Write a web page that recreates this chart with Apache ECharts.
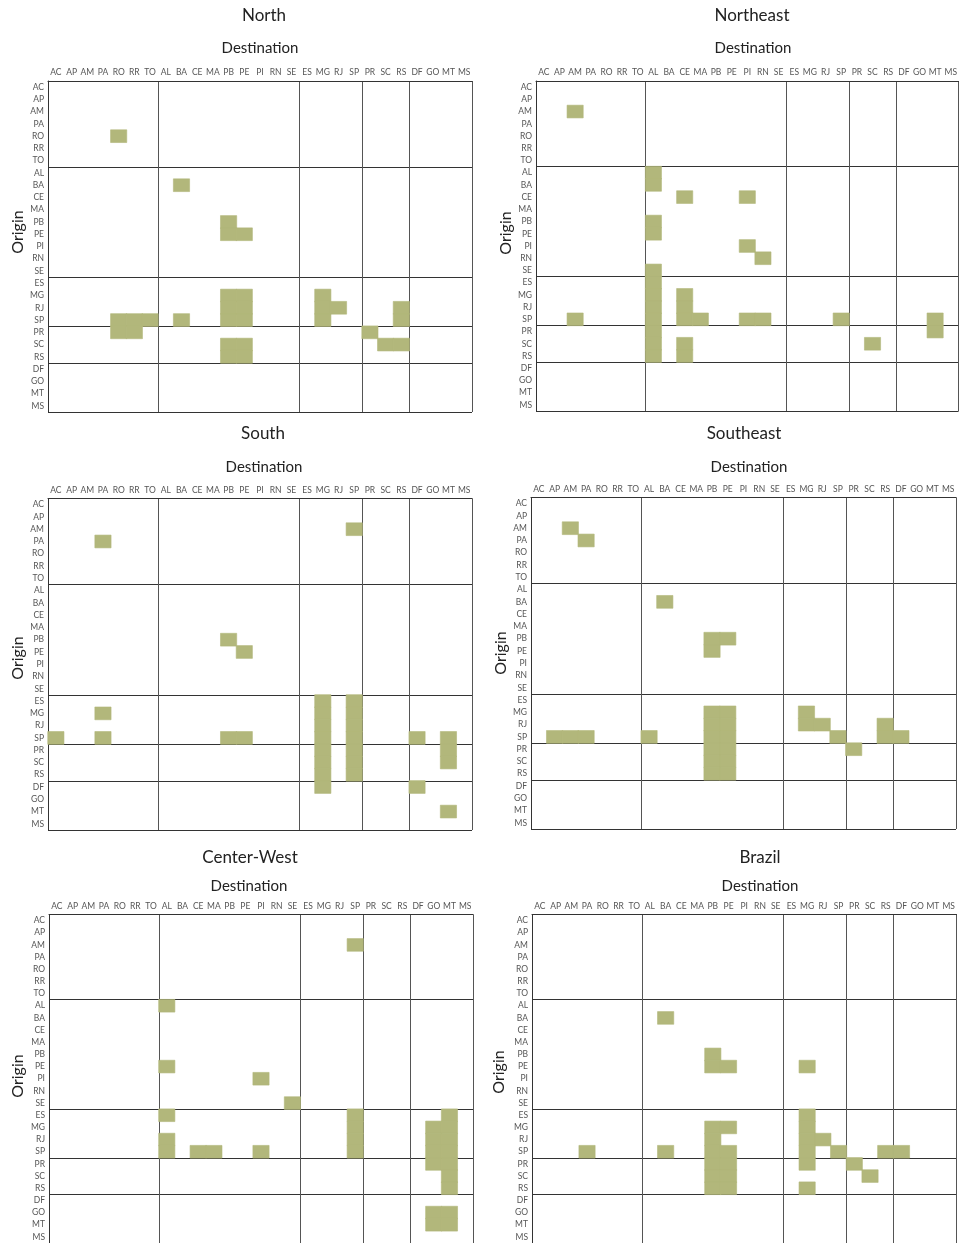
<!DOCTYPE html>
<html>
<head>
<meta charset="utf-8">
<script src="https://cdn.jsdelivr.net/npm/echarts@6/dist/echarts.min.js"></script>
<style>
  html, body { margin: 0; padding: 0; background: #fff; }
  #main { width: 960px; height: 1243px; }
</style>
</head>
<body>
<div id="main"></div>
<script>
// states in the order of both axes
const states = ['AC', 'AP', 'AM', 'PA', 'RO', 'RR', 'TO', 'AL', 'BA', 'CE', 'MA', 'PB', 'PE', 'PI', 'RN', 'SE',
  'ES', 'MG', 'RJ', 'SP', 'PR', 'SC', 'RS', 'DF', 'GO', 'MT', 'MS'];
// first state of each region: North, Northeast, Southeast, South, Center-West
const regionStarts = ['AC', 'AL', 'ES', 'PR', 'DF'];

// [origin, destinations marked]
const northFlows = [
  ['RO', ['RO']],
  ['BA', ['BA']],
  ['PB', ['PB']],
  ['PE', ['PB', 'PE']],
  ['MG', ['PB', 'PE', 'MG']],
  ['RJ', ['PB', 'PE', 'MG', 'RJ', 'RS']],
  ['SP', ['RO', 'RR', 'TO', 'BA', 'PB', 'PE', 'MG', 'RS']],
  ['PR', ['RO', 'RR', 'PR']],
  ['SC', ['PB', 'PE', 'SC', 'RS']],
  ['RS', ['PB', 'PE']]
];
const northeastFlows = [
  ['AM', ['AM']],
  ['AL', ['AL']],
  ['BA', ['AL']],
  ['CE', ['CE', 'PI']],
  ['PB', ['AL']],
  ['PE', ['AL']],
  ['PI', ['PI']],
  ['RN', ['RN']],
  ['SE', ['AL']],
  ['ES', ['AL']],
  ['MG', ['AL', 'CE']],
  ['RJ', ['AL', 'CE']],
  ['SP', ['AM', 'AL', 'CE', 'MA', 'PI', 'RN', 'SP', 'MT']],
  ['PR', ['AL', 'MT']],
  ['SC', ['AL', 'CE', 'SC']],
  ['RS', ['AL', 'CE']]
];
const southFlows = [
  ['AM', ['SP']],
  ['PA', ['PA']],
  ['PB', ['PB']],
  ['PE', ['PE']],
  ['ES', ['MG', 'SP']],
  ['MG', ['PA', 'MG', 'SP']],
  ['RJ', ['MG', 'SP']],
  ['SP', ['AC', 'PA', 'PB', 'PE', 'MG', 'SP', 'DF', 'MT']],
  ['PR', ['MG', 'SP', 'MT']],
  ['SC', ['MG', 'SP', 'MT']],
  ['RS', ['MG', 'SP']],
  ['DF', ['MG', 'DF']],
  ['MT', ['MT']]
];
const southeastFlows = [
  ['AM', ['AM']],
  ['PA', ['PA']],
  ['BA', ['BA']],
  ['PB', ['PB', 'PE']],
  ['PE', ['PB']],
  ['MG', ['PB', 'PE', 'MG']],
  ['RJ', ['PB', 'PE', 'MG', 'RJ', 'RS']],
  ['SP', ['AP', 'AM', 'PA', 'AL', 'PB', 'PE', 'SP', 'RS', 'DF']],
  ['PR', ['PB', 'PE', 'PR']],
  ['SC', ['PB', 'PE']],
  ['RS', ['PB', 'PE']]
];
const centerWestFlows = [
  ['AM', ['SP']],
  ['AL', ['AL']],
  ['PE', ['AL']],
  ['PI', ['PI']],
  ['SE', ['SE']],
  ['ES', ['AL', 'SP', 'MT']],
  ['MG', ['SP', 'GO', 'MT']],
  ['RJ', ['AL', 'SP', 'GO', 'MT']],
  ['SP', ['AL', 'CE', 'MA', 'PI', 'SP', 'GO', 'MT']],
  ['PR', ['GO', 'MT']],
  ['SC', ['MT']],
  ['RS', ['MT']],
  ['GO', ['GO', 'MT']],
  ['MT', ['GO', 'MT']]
];
const brazilFlows = [
  ['BA', ['BA']],
  ['PB', ['PB']],
  ['PE', ['PB', 'PE', 'MG']],
  ['ES', ['MG']],
  ['MG', ['PB', 'PE', 'MG']],
  ['RJ', ['PB', 'MG', 'RJ']],
  ['SP', ['PA', 'BA', 'PB', 'PE', 'MG', 'SP', 'RS', 'DF']],
  ['PR', ['PB', 'PE', 'MG', 'PR']],
  ['SC', ['PB', 'PE', 'SC']],
  ['RS', ['PB', 'PE', 'MG']]
];

const panels = [
  { name: 'North', flows: northFlows, left: 48, top: 81, width: 424, height: 331, tx: 264, ty: 16, dx: 260, dy: 48, ox: 17.5, oy: 232 },
  { name: 'Northeast', flows: northeastFlows, left: 536, top: 81, width: 424, height: 330, tx: 752, ty: 16, dx: 753, dy: 48, ox: 506, oy: 233 },
  { name: 'South', flows: southFlows, left: 48, top: 498.5, width: 424, height: 331.5, tx: 263, ty: 434, dx: 264, dy: 467, ox: 17.5, oy: 658 },
  { name: 'Southeast', flows: southeastFlows, left: 531, top: 497.5, width: 425, height: 331.5, tx: 744, ty: 434, dx: 749, dy: 467, ox: 501, oy: 653 },
  { name: 'Center-West', flows: centerWestFlows, left: 49, top: 914.5, width: 424, height: 330, tx: 250, ty: 858, dx: 249, dy: 886, ox: 17.5, oy: 1076 },
  { name: 'Brazil', flows: brazilFlows, left: 532, top: 914.5, width: 424.5, height: 331, tx: 760, ty: 858, dx: 760, dy: 886, ox: 499, oy: 1072 }
];

const cellColor = '#b2b77b';
const labelFont = 'Lato, "Open Sans", sans-serif';
const boundaryIdx = regionStarts.map(s => states.indexOf(s));

function toCells(flows) {
  let out = [];
  flows.forEach(function (row) {
    row[1].forEach(function (dest) {
      out.push([states.indexOf(dest), states.indexOf(row[0]), 1]);
    });
  });
  return out;
}

let grid = [], xAxis = [], yAxis = [], series = [], graphic = [];
panels.forEach(function (p, i) {
  grid.push({ left: p.left, top: p.top, width: p.width, height: p.height, containLabel: false });
  xAxis.push({
    type: 'category',
    gridIndex: i,
    position: 'top',
    data: states,
    axisLine: { show: true, lineStyle: { color: '#333', width: 1 } },
    axisTick: { show: false },
    axisLabel: { interval: 0, fontSize: 8.5, color: '#555', fontFamily: labelFont, margin: 4 },
    splitLine: {
      show: true,
      interval: function (idx) { return boundaryIdx.indexOf(idx) >= 0; },
      lineStyle: { color: '#555', width: 1 }
    }
  });
  yAxis.push({
    type: 'category',
    gridIndex: i,
    inverse: true,
    data: states,
    axisLine: { show: true, lineStyle: { color: '#333', width: 1 } },
    axisTick: { show: false },
    axisLabel: { interval: 0, fontSize: 8.5, color: '#555', fontFamily: labelFont, margin: 4 },
    splitLine: {
      show: true,
      interval: function (idx) { return boundaryIdx.indexOf(idx) >= 0; },
      lineStyle: { color: '#333', width: 1 }
    }
  });
  series.push({
    type: 'heatmap',
    xAxisIndex: i,
    yAxisIndex: i,
    data: toCells(p.flows),
    itemStyle: { color: cellColor, borderColor: cellColor, borderWidth: 0.6 },
    emphasis: { disabled: true },
    silent: true
  });
  graphic.push(
    { type: 'text', x: p.tx, y: p.ty, style: { text: p.name, fontSize: 17, fontFamily: labelFont, fill: '#222', align: 'center', verticalAlign: 'middle' } },
    { type: 'text', x: p.dx, y: p.dy, style: { text: 'Destination', fontSize: 15, fontFamily: labelFont, fill: '#222', align: 'center', verticalAlign: 'middle' } },
    { type: 'text', x: p.ox, y: p.oy, rotation: Math.PI / 2, style: { text: 'Origin', fontSize: 16, fontFamily: labelFont, fill: '#222', align: 'center', verticalAlign: 'middle' } }
  );
});

let myChart = echarts.init(document.getElementById('main'), null, { renderer: 'canvas' });
myChart.setOption({
  animation: false,
  backgroundColor: '#fff',
  grid: grid,
  xAxis: xAxis,
  yAxis: yAxis,
  visualMap: {
    show: false,
    min: 0,
    max: 1,
    seriesIndex: [0, 1, 2, 3, 4, 5],
    inRange: { color: [cellColor, cellColor] }
  },
  graphic: graphic,
  series: series
});
</script>
</body>
</html>
